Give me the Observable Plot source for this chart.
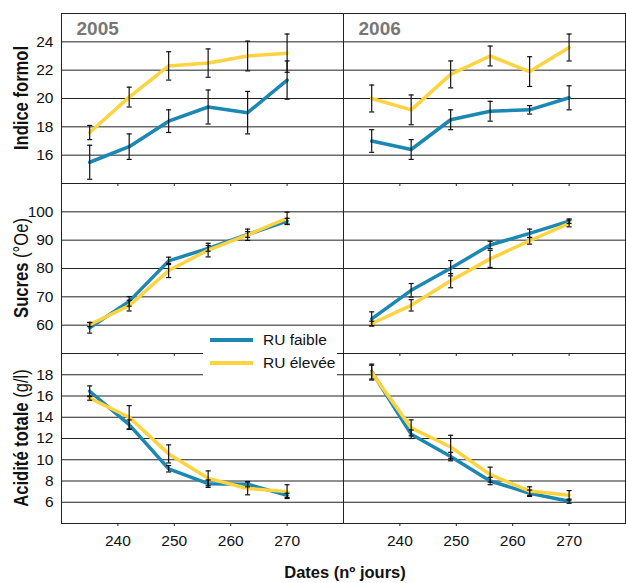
<!DOCTYPE html>
<html><head><meta charset="utf-8">
<script src="https://cdn.jsdelivr.net/npm/d3@7"></script>
<script src="https://cdn.jsdelivr.net/npm/@observablehq/plot@0.6"></script>
<style>
body{margin:0;background:#fff;}
#chart{position:relative;width:626px;height:583px;background:#fff;font-family:"Liberation Sans",Arial,sans-serif;color:#111;overflow:hidden;}
.row{position:absolute;left:0;}
.ytitle{position:absolute;left:21px;transform:translate(-50%,-50%) rotate(-90deg) scaleX(0.83);white-space:nowrap;font-size:20px;font-weight:normal;}
.ytitle b{font-weight:bold;}
.xtitle{position:absolute;left:345px;top:572px;transform:translate(-50%,-50%);white-space:nowrap;font-weight:bold;font-size:16.5px;}
.legend{position:absolute;left:203px;top:327px;width:134px;height:50px;background:#fff;font-size:15.5px;}
.legend .it{position:absolute;left:7px;height:20px;display:flex;align-items:center;}
.legend .sw{width:43px;height:4px;margin-right:10px;}
</style></head><body><div id="chart"></div>
<script>
// ---- data ----
const dates = [235, 242, 249, 256, 263, 270];
const years = [2005, 2006];
const series = ["RU faible", "RU élevée"];
const colors = ["#1b87b3", "#fdd33f"];
const xTicks = [240, 250, 260, 270];

// Indice formol
const formolTicks = [16, 18, 20, 22, 24];
const formol2005Faible = [15.5, 16.6, 18.4, 19.4, 19.0, 21.3];
const formol2005FaibleErr = [1.2, 0.9, 0.8, 1.2, 1.5, 1.35];
const formol2005Elevee = [17.6, 20.1, 22.3, 22.5, 23.0, 23.2];
const formol2005EleveeErr = [0.5, 0.7, 1.0, 1.0, 1.05, 1.35];
const formol2006Faible = [17.0, 16.4, 18.5, 19.1, 19.2, 20.05];
const formol2006FaibleErr = [0.8, 0.7, 0.7, 0.7, 0.3, 0.85];
const formol2006Elevee = [20.0, 19.2, 21.7, 23.0, 21.9, 23.6];
const formol2006EleveeErr = [0.95, 1.05, 0.95, 0.7, 1.05, 0.95];

// Sucres (°Oe)
const sucresTicks = [60, 70, 80, 90, 100];
const sucres2005Faible = [59.1, 68.4, 82.7, 87.1, 92.0, 96.7];
const sucres2005FaibleErr = [1.9, 1.7, 1.3, 1.0, 1.0, 1.0];
const sucres2005Elevee = [60.2, 66.9, 79.3, 86.5, 91.9, 97.7];
const sucres2005EleveeErr = [0.7, 1.9, 2.5, 2.4, 2.0, 2.2];
const sucres2006Faible = [62.2, 72.3, 80.1, 88.3, 92.4, 96.7];
const sucres2006FaibleErr = [2.5, 2.4, 2.7, 1.3, 1.5, 0.8];
const sucres2006Elevee = [60.6, 67.0, 75.7, 83.4, 89.8, 95.9];
const sucres2006EleveeErr = [0.8, 2.0, 2.5, 3.0, 1.2, 1.2];

// Acidité totale (g/l)
const aciditeTicks = [6, 8, 10, 12, 14, 16, 18];
const acidite2005Faible = [16.45, 13.3, 9.15, 7.75, 7.7, 6.65];
const acidite2005FaibleErr = [0.5, 0.45, 0.3, 0.35, 0.25, 0.2];
const acidite2005Elevee = [15.8, 14.0, 10.55, 8.25, 7.3, 7.0];
const acidite2005EleveeErr = [0.2, 1.1, 0.85, 0.7, 0.6, 0.65];
const acidite2006Faible = [18.3, 12.4, 10.3, 8.0, 6.85, 6.1];
const acidite2006FaibleErr = [0.7, 0.4, 0.4, 0.35, 0.3, 0.2];
const acidite2006Elevee = [18.2, 13.0, 11.2, 8.6, 7.05, 6.65];
const acidite2006EleveeErr = [0.7, 0.75, 1.1, 0.7, 0.4, 0.45];

// ---- build ----
function tidy(year, name, vals, errs) {
  return dates.map((d, i) => ({date: d, year, series: name, value: vals[i], err: errs[i]}));
}
const formolData = [
  ...tidy(2005, series[0], formol2005Faible, formol2005FaibleErr),
  ...tidy(2006, series[0], formol2006Faible, formol2006FaibleErr),
  ...tidy(2005, series[1], formol2005Elevee, formol2005EleveeErr),
  ...tidy(2006, series[1], formol2006Elevee, formol2006EleveeErr)
];
const sucresData = [
  ...tidy(2005, series[0], sucres2005Faible, sucres2005FaibleErr),
  ...tidy(2006, series[0], sucres2006Faible, sucres2006FaibleErr),
  ...tidy(2005, series[1], sucres2005Elevee, sucres2005EleveeErr),
  ...tidy(2006, series[1], sucres2006Elevee, sucres2006EleveeErr)
];
const aciditeData = [
  ...tidy(2005, series[0], acidite2005Faible, acidite2005FaibleErr),
  ...tidy(2006, series[0], acidite2006Faible, acidite2006FaibleErr),
  ...tidy(2005, series[1], acidite2005Elevee, acidite2005EleveeErr),
  ...tidy(2006, series[1], acidite2006Elevee, acidite2006EleveeErr)
];

const chart = document.getElementById("chart");
const FONT = '"Liberation Sans",Arial,sans-serif';

function row({data, domain, ticks, top, mb, showX, showYear}) {
  const marks = [
    Plot.gridY(ticks, {stroke: "#222", strokeOpacity: 1}),
    Plot.frame({stroke: "#222"}),
    Plot.axisY(ticks, {tickSize: 0, tickPadding: 8, label: null, fontSize: 15.5, fill: "#111"}),
    showX
      ? Plot.axisX(xTicks, {tickSize: 3, tickPadding: 8, label: null, fontSize: 15.5, fill: "#111", stroke: "#222"})
      : Plot.axisX(xTicks, {tickSize: 3, tickFormat: () => "", label: null, stroke: "#222"}),
    Plot.line(data, {x: "date", y: "value", z: "series", stroke: "series", fx: "year", strokeWidth: 3.5}),
    Plot.ruleX(data, {x: "date", y1: d => d.value - d.err, y2: d => d.value + d.err, fx: "year", stroke: "#111", strokeWidth: 1.2}),
    Plot.link(data, {x1: d => d.date - 0.45, x2: d => d.date + 0.45, y1: d => d.value + d.err, y2: d => d.value + d.err, fx: "year", stroke: "#111", strokeWidth: 1.2}),
    Plot.link(data, {x1: d => d.date - 0.45, x2: d => d.date + 0.45, y1: d => d.value - d.err, y2: d => d.value - d.err, fx: "year", stroke: "#111", strokeWidth: 1.2})
  ];
  if (showYear) {
    marks.push(Plot.text(years, {fx: d => d, text: d => String(d), frameAnchor: "top-left", dx: 15, dy: 8,
      fill: "#777", fontWeight: "bold", fontSize: 19}));
  }
  const p = Plot.plot({
    width: 626, height: 170 + 10 + mb,
    marginTop: 10, marginBottom: mb, marginLeft: 60, marginRight: 1,
    style: {background: "transparent", overflow: "visible", fontFamily: FONT, fontSize: "16px", color: "#111"},
    fx: {domain: years, padding: 0, axis: null, label: null},
    x: {domain: [230, 280]},
    y: {domain},
    color: {domain: series, range: colors},
    marks
  });
  p.classList.add("row");
  p.style.top = (top - 10) + "px";
  chart.appendChild(p);
}

row({data: formolData, domain: [14, 26], ticks: formolTicks, top: 13, mb: 10, showX: false, showYear: true});
row({data: sucresData, domain: [50, 110], ticks: sucresTicks, top: 183, mb: 10, showX: false, showYear: false});
row({data: aciditeData, domain: [4, 20], ticks: aciditeTicks, top: 353, mb: 40, showX: true, showYear: false});

// y titles
const yTitles = [
  {bold: "Indice formol", rest: "", cy: 98},
  {bold: "Sucres", rest: " (°Oe)", cy: 268},
  {bold: "Acidité totale", rest: " (g/l)", cy: 438}
];
for (const t of yTitles) {
  const d = document.createElement("div");
  d.className = "ytitle";
  d.style.top = t.cy + "px";
  d.innerHTML = "<b>" + t.bold + "</b>" + t.rest;
  chart.appendChild(d);
}
// x title
const xt = document.createElement("div");
xt.className = "xtitle";
xt.textContent = "Dates (nº jours)";
chart.appendChild(xt);

// legend
const lg = document.createElement("div");
lg.className = "legend";
series.forEach((s, i) => {
  const it = document.createElement("div");
  it.className = "it";
  it.style.top = (i === 0 ? 3 : 26) + "px";
  it.innerHTML = '<span class="sw" style="background:' + colors[i] + '"></span><span>' + s + '</span>';
  lg.appendChild(it);
});
chart.appendChild(lg);
</script>
</body></html>
